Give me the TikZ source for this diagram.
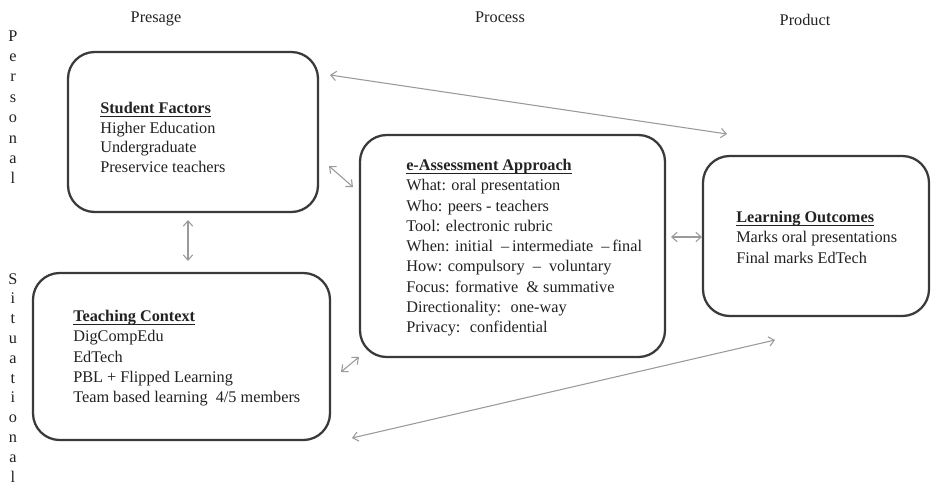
\documentclass[tikz,border=0pt]{standalone}
\usepackage{fontspec}
\setmainfont{Liberation Serif}
\newlength\myulw
\newcommand\myul[1]{\settowidth\myulw{#1}\rlap{\rule[-2.2pt]{\myulw}{0.6pt}}#1}
\usetikzlibrary{arrows.meta}
\definecolor{txt}{HTML}{222222}
\definecolor{boxline}{HTML}{3A3A3A}
\definecolor{arrowgray}{HTML}{9A9A9A}
\tikzset{
  box/.style={draw=boxline, line width=1.7pt, rounded corners=20pt, inner sep=0pt},
  txtblock/.style={anchor=base west, inner sep=0pt, text=txt},
  header/.style={anchor=base, inner sep=0pt, text=txt, font=\fontsize{12.2}{15}\selectfont},
  conn/.style={draw=arrowgray, line width=0.8pt, {Straight Barb[length=4pt,width=7pt]}-{Straight Barb[length=4pt,width=7pt]}}
}
\begin{document}
\begin{tikzpicture}[x=0.75pt,y=-0.75pt]
\fill[white] (0,0) rectangle (931,486);
\useasboundingbox (0,0) rectangle (931,486);

% headers
\node[header] (presage) at (156,22) {Presage};
\node[header] (process) at (500,22) {Process};
\node[header] (product) at (805,25) {Product};

% vertical labels
\node[anchor=base, inner sep=0pt, text=txt] (personal) at (13,41)
  {\fontsize{12.2}{15.3}\selectfont\begin{tabular}[t]{@{}c@{}}P\\e\\r\\s\\o\\n\\a\\l\end{tabular}};
\node[anchor=base, inner sep=0pt, text=txt] (situational) at (13,284)
  {\fontsize{12.2}{14.85}\selectfont\begin{tabular}[t]{@{}c@{}}S\\i\\t\\u\\a\\t\\i\\o\\n\\a\\l\end{tabular}};

% boxes
\node[box, minimum width=187.5pt, minimum height=120pt] (sf) at (193,132) {};
\node[box, minimum width=222.75pt, minimum height=125.25pt] (tc) at (181.5,356.5) {};
\node[box, minimum width=228.75pt, minimum height=166.5pt] (ea) at (512.5,246) {};
\node[box, minimum width=169.5pt, minimum height=120pt] (lo) at (816,236) {};

% box texts
\node[txtblock] (sftext) at (100,113.5)
  {\fontsize{12.2}{14.8}\selectfont\begin{tabular}[t]{@{}l@{}}
  \myul{\textbf{Student Factors}}\\
  Higher Education\\
  Undergraduate\\
  Preservice teachers
  \end{tabular}};

\node[txtblock] (tctext) at (73,321.5)
  {\fontsize{12.2}{15.2}\selectfont\begin{tabular}[t]{@{}l@{}}
  \myul{\textbf{Teaching Context}}\\
  DigCompEdu\\
  EdTech\\
  PBL + Flipped Learning\\
  Team based learning\ \ 4/5 members
  \end{tabular}};

\node[txtblock] (eatext) at (406,170.5)
  {\fontsize{12.2}{15.2}\selectfont\begin{tabular}[t]{@{}l@{}}
  \myul{\textbf{e-Assessment Approach}}\\
  What: oral presentation\\
  Who: peers - teachers\\
  Tool: electronic rubric\\
  When: initial \ --\,intermediate \ --\,final\\
  How: compulsory \ -- \ voluntary\\
  Focus: formative \ \& summative\\
  Directionality: \ one-way\\
  Privacy: \ confidential
  \end{tabular}};

\node[txtblock] (lotext) at (736,222.5)
  {\fontsize{12.2}{15.2}\selectfont\begin{tabular}[t]{@{}l@{}}
  \myul{\textbf{Learning Outcomes}}\\
  Marks oral presentations\\
  Final marks EdTech
  \end{tabular}};

% connector end points
\coordinate (a1s) at (330,75);
\coordinate (a1e) at (727,134);
\coordinate (a2s) at (329,166);
\coordinate (a2e) at (353,187);
\coordinate (a3s) at (188,220);
\coordinate (a3e) at (188,261);
\coordinate (a4s) at (341,372);
\coordinate (a4e) at (359,357);
\coordinate (a5s) at (671,237);
\coordinate (a5e) at (702,237);
\coordinate (a6s) at (352,438);
\coordinate (a6e) at (775,340);

% connectors
\draw[conn] (a1s) -- (a1e);
\draw[conn] (a2s) -- (a2e);
\draw[conn] (a3s) -- (a3e);
\draw[conn] (a4s) -- (a4e);
\draw[conn] (a5s) -- (a5e);
\draw[conn] (a6s) -- (a6e);
\end{tikzpicture}
\end{document}
